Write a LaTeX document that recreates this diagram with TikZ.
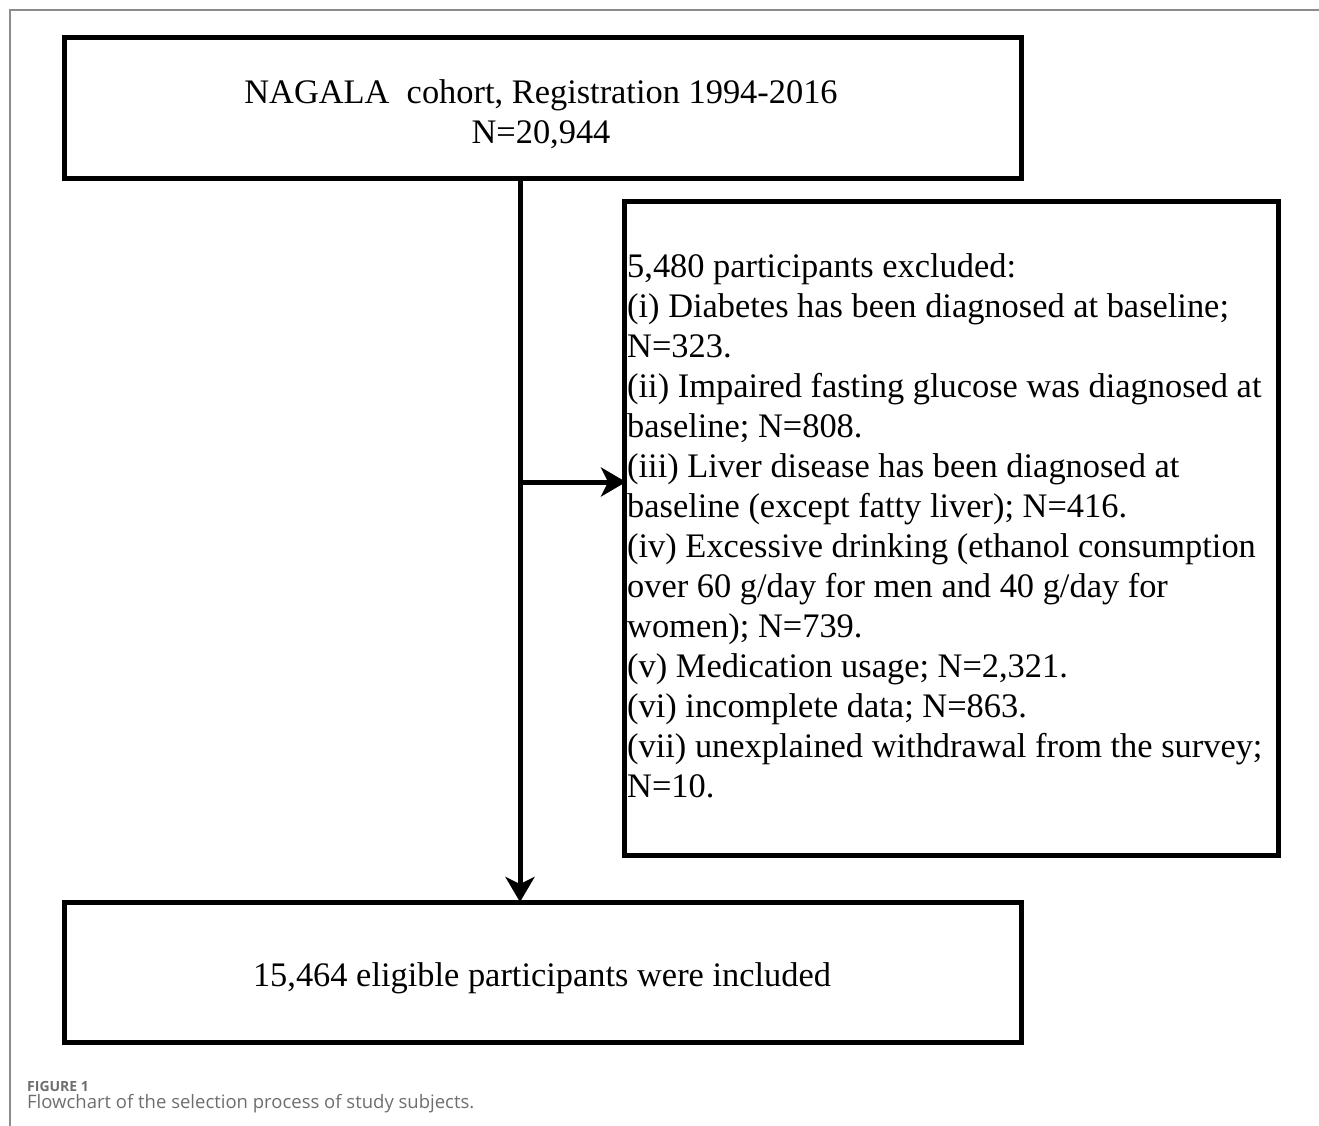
\documentclass[tikz,border=0pt]{standalone}
\usepackage{fontspec}
\setmainfont{Liberation Serif}
\newfontfamily\capfont{Open Sans}
\usetikzlibrary{arrows.meta}
\definecolor{capgray}{HTML}{6E6E6E}
\definecolor{framegray}{HTML}{8C8C8C}
\begin{document}
\begin{tikzpicture}[x=1pt,y=-1pt,
  box/.style={draw,line width=5pt},
  flow/.style={line width=5pt,-{Stealth[length=25pt,width=29pt,inset=7pt]}},
  txt/.style={font=\fontsize{34.4}{40}\selectfont,inner sep=0pt}]
\useasboundingbox (0,0) rectangle (1319,1126);
\draw[framegray,line width=1.5pt] (1319,10) -- (10,10) -- (10,1126);
\draw[box] (64,38) rectangle (1021,179);
\draw[box] (624,202) rectangle (1278,855);
\draw[box] (64,902) rectangle (1021,1042);
\node[txt,anchor=base] (top1) at (541,104) {NAGALA\ \ cohort, Registration 1994-2016};
\node[txt,anchor=base] (top2) at (541,144) {N=20,944};
\foreach \t [count=\i from 0] in {{5,480 participants excluded:},
{(i) Diabetes has been diagnosed at baseline;},
{N=323.},
{(ii) Impaired fasting glucose was diagnosed at},
{baseline; N=808.},
{(iii) Liver disease has been diagnosed at},
{baseline (except fatty liver); N=416.},
{(iv) Excessive drinking (ethanol consumption},
{over 60 g/day for men and 40 g/day for},
{women); N=739.},
{(v) Medication usage; N=2,321.},
{(vi) incomplete data; N=863.},
{(vii) unexplained withdrawal from the survey;},
{N=10.}}
  \node[txt,anchor=base west] (l\i) at (627,{277+40*\i}) {\t};
\node[txt,anchor=base] (bot) at (542,986) {15,464 eligible participants were included};
\coordinate (s) at (520,179);
\coordinate (j) at (520,482);
\coordinate (e) at (626,482);
\coordinate (b) at (520,902);
\draw[flow] (s) -- (b);
\draw[flow] (j) -- (e);
\node[anchor=base west,inner sep=0pt,text=capgray,font=\capfont\bfseries\fontsize{14}{16}\selectfont] (fig) at (27,1091) {FIGURE 1};
\node[anchor=base west,inner sep=0pt,text=capgray,font=\capfont\fontsize{18.5}{22}\selectfont] (cap) at (27,1108) {Flowchart of the selection process of study subjects.};
\end{tikzpicture}
\end{document}
